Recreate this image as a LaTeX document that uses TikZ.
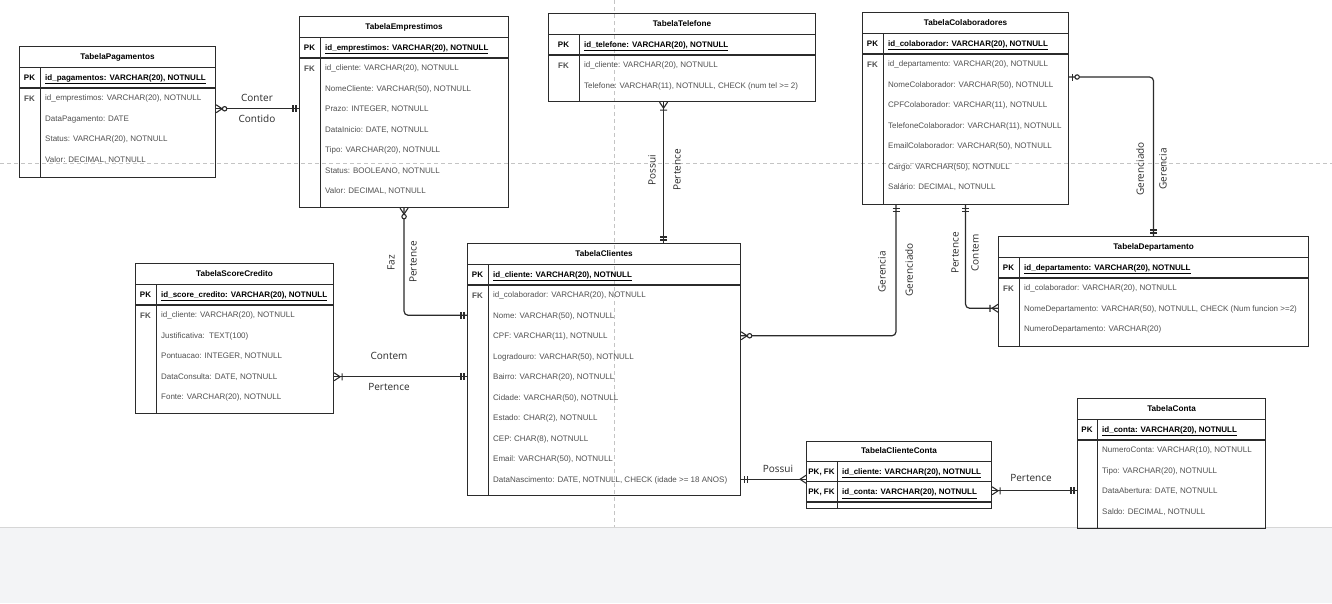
\documentclass[tikz,border=0pt]{standalone}
\usepackage{fontspec}
\setmainfont{Liberation Sans}
\newfontfamily\fonterotulo{Open Sans}
\usetikzlibrary{calc}
\definecolor{linha}{HTML}{2B2B2B}
\definecolor{cinzacampo}{HTML}{505050}
\definecolor{grade}{HTML}{C4C4C4}
\definecolor{rodape}{HTML}{F3F4F6}

\tikzset{
  tabela/.style={draw=linha, line width=1.1pt, anchor=north west, inner sep=0pt},
  fina/.style={draw=linha, line width=0.8pt},
  grossa/.style={draw=linha, line width=1.6pt},
  texto/.style={font=\fontsize{8}{9}\selectfont, inner sep=0pt, text height=5.8pt, text depth=0pt},
  titulo/.style={texto, font=\fontsize{8.2}{9}\selectfont\bfseries},
  chave/.style={texto, font=\fontsize{8}{9}\selectfont\bfseries},
  campo/.style={texto, anchor=west, text=cinzacampo},
  pkcampo/.style={chave, anchor=west},
  rel/.style={draw=linha, line width=1.2pt, rounded corners=4pt},
  simbolo/.style={draw=linha, line width=1.1pt, sharp corners},
  rotulo/.style={font=\fonterotulo\fontsize{10}{12}\selectfont, text=linha, inner sep=0pt},
  pics/umobr/.style={code={\draw[simbolo] (-3,-3.5)--(-3,3.5) (-6,-3.5)--(-6,3.5);}},
  pics/muitos/.style={code={\draw[simbolo] (0,-4)--(-6,0)--(0,4);}},
  pics/umuitos/.style={code={\draw[simbolo] (0,-4)--(-6,0)--(0,4) (-8,-3.5)--(-8,3.5);}},
  pics/zmuitos/.style={code={\draw[simbolo] (0,-4)--(-6,0)--(0,4); \draw[simbolo, fill=white] (-8.5,0) circle (2.2);}},
  pics/zum/.style={code={\draw[simbolo] (-3,-3.5)--(-3,3.5); \draw[simbolo, fill=white] (-8,0) circle (2.2);}},
}

\newcommand{\tabela}[9]{%
  \node[tabela, minimum width=#4pt, minimum height=#5pt] (#1) at (#2,#3) {};
  \node[titulo] (#1-t) at ($(#1.north)+(0,10.5)$) {#7};
  \draw[fina] ($(#1.north west)+(0,21)$) -- ($(#1.north east)+(0,21)$);
  \draw[grossa] ($(#1.north west)+(0,42)$) -- ($(#1.north east)+(0,42)$);
  \draw[fina] ($(#1.north west)+(#6,21)$) -- ($(#1.south west)+(#6,0)$);
  \node[chave] (#1-pk) at ($(#1.north west)+(#6/2,31.5)$) {PK};
  \node[pkcampo] (#1-0) at ($(#1.north west)+(#6+5,31.5)$) {\underline{#8}};
  \foreach \f [count=\i] in {#9}
    \node[campo] (#1-\i) at ($(#1.north west)+(#6+5,31.25+20.5*\i)$) {\f};
}

\begin{document}
\begin{tikzpicture}[x=1pt, y=-1pt]
\useasboundingbox (0,0) rectangle (1332,603);
\fill[white] (0,0) rectangle (1332,603);
\fill[rodape] (0,527) rectangle (1332,603);
\draw[grade!70] (0,527) -- (1332,527);
\draw[grade, dash pattern=on 4pt off 3pt] (0,163) -- (1332,163) (614,0) -- (614,527);

\tabela{pag}{19}{46}{196}{131}{21}{TabelaPagamentos}{id\_pagamentos: VARCHAR(20), NOTNULL}{{id\_emprestimos: VARCHAR(20), NOTNULL}, {DataPagamento: DATE}, {Status: VARCHAR(20), NOTNULL}, {Valor: DECIMAL, NOTNULL}}
\tabela{emp}{299}{16}{209}{191}{21}{TabelaEmprestimos}{id\_emprestimos: VARCHAR(20), NOTNULL}{{id\_cliente: VARCHAR(20), NOTNULL}, {NomeCliente: VARCHAR(50), NOTNULL}, {Prazo: INTEGER, NOTNULL}, {DataInicio: DATE, NOTNULL}, {Tipo: VARCHAR(20), NOTNULL}, {Status: BOOLEANO, NOTNULL}, {Valor: DECIMAL, NOTNULL}}
\tabela{tel}{548}{13}{267}{88}{31}{TabelaTelefone}{id\_telefone: VARCHAR(20), NOTNULL}{{id\_cliente: VARCHAR(20), NOTNULL}, {Telefone: VARCHAR(11), NOTNULL, CHECK (num tel >= 2)}}
\tabela{col}{862}{12}{206}{192}{21}{TabelaColaboradores}{id\_colaborador: VARCHAR(20), NOTNULL}{{id\_departamento: VARCHAR(20), NOTNULL}, {NomeColaborador: VARCHAR(50), NOTNULL}, {CPFColaborador: VARCHAR(11), NOTNULL}, {TelefoneColaborador: VARCHAR(11), NOTNULL}, {EmailColaborador: VARCHAR(50), NOTNULL}, {Cargo: VARCHAR(50), NOTNULL}, {Salário: DECIMAL, NOTNULL}}
\tabela{sc}{135}{263}{198}{150}{21}{TabelaScoreCredito}{id\_score\_credito: VARCHAR(20), NOTNULL}{{id\_cliente: VARCHAR(20), NOTNULL}, {Justificativa:\ \ TEXT(100)}, {Pontuacao: INTEGER, NOTNULL}, {DataConsulta: DATE, NOTNULL}, {Fonte: VARCHAR(20), NOTNULL}}
\tabela{cli}{467}{243}{273}{252}{21}{TabelaClientes}{id\_cliente: VARCHAR(20), NOTNULL}{{id\_colaborador: VARCHAR(20), NOTNULL}, {Nome: VARCHAR(50), NOTNULL}, {CPF: VARCHAR(11), NOTNULL}, {Logradouro: VARCHAR(50), NOTNULL}, {Bairro: VARCHAR(20), NOTNULL}, {Cidade: VARCHAR(50), NOTNULL}, {Estado: CHAR(2), NOTNULL}, {CEP: CHAR(8), NOTNULL}, {Email: VARCHAR(50), NOTNULL}, {DataNascimento: DATE, NOTNULL, CHECK (idade >= 18 ANOS)}}
\tabela{dep}{998}{236}{310}{110}{21}{TabelaDepartamento}{id\_departamento: VARCHAR(20), NOTNULL}{{id\_colaborador: VARCHAR(20), NOTNULL}, {NomeDepartamento: VARCHAR(50), NOTNULL, CHECK (Num funcion >=2)}, {NumeroDepartamento: VARCHAR(20)}}
\tabela{conta}{1077}{398}{188}{130}{20}{TabelaConta}{id\_conta: VARCHAR(20), NOTNULL}{{NumeroConta: VARCHAR(10), NOTNULL}, {Tipo: VARCHAR(20), NOTNULL}, {DataAbertura: DATE, NOTNULL}, {Saldo: DECIMAL, NOTNULL}}
\foreach \t/\c in {pag/21, emp/21, tel/31, col/21, sc/21, cli/21, dep/21}
  \node[chave, text=cinzacampo] (\t-fk) at ($(\t.north west)+(\c/2,52.25)$) {FK};

\node[tabela, minimum width=185pt, minimum height=67pt] (cc) at (806,441) {};
\node[titulo] (cc-t) at ($(cc.north)+(0,10)$) {TabelaClienteConta};
\draw[fina] ($(cc.north west)+(0,20)$) -- ++(185,0);
\draw[fina] ($(cc.north west)+(0,40)$) -- ++(185,0);
\draw[grossa] ($(cc.north west)+(0,61)$) -- ++(185,0);
\draw[fina] ($(cc.north west)+(31,20)$) -- ($(cc.south west)+(31,0)$);
\foreach \f [count=\i] in {id\_cliente, id\_conta} {
  \node[chave] (cc-pk\i) at ($(cc.north west)+(15.5,9.75+20.5*\i)$) {PK, FK};
  \node[pkcampo] (cc-\i) at ($(cc.north west)+(36,9.75+20.5*\i)$) {\underline{\f: VARCHAR(20), NOTNULL}};
}

\coordinate (telcli) at ([xshift=-18.5pt]tel.south);
\coordinate (colcli) at ([xshift=34pt]col.south west);
\coordinate (coldep) at ([yshift=-65pt]col.north east);

\draw[rel] (pag.east |- emp-3) pic[rotate=180]{zmuitos} -- (emp.west |- emp-3) pic{umobr};
\draw[rel] (emp.south) pic[rotate=90]{zmuitos} |- (cli.west |- cli-2) pic{umobr};
\draw[rel] (sc.east |- cli-5) pic[rotate=180]{umuitos} -- (cli.west |- cli-5) pic{umobr};
\draw[rel] (telcli) pic[rotate=90]{umuitos} -- (telcli |- cli.north) pic[rotate=-90]{umobr};
\draw[rel] (cli.east |- cli-10) pic[rotate=180]{umobr} -- (cc.west |- cli-10) pic{muitos};
\draw[rel] (cc.east |- conta-3) pic[rotate=180]{umuitos} -- (conta.west |- conta-3) pic{umobr};
\draw[rel] (cli.east |- cli-3) pic[rotate=180]{zmuitos} -| (colcli) pic[rotate=90]{umobr};
\draw[rel] (col.south) pic[rotate=90]{umobr} |- (dep.west |- dep-2) pic{umuitos};
\draw[rel] (coldep) pic[rotate=180]{zum} -| (dep.north) pic[rotate=-90]{umobr};

\node[rotulo] (r1a) at (257,98) {Conter};
\node[rotulo] (r1b) at (257,119) {Contido};
\node[rotulo, rotate=90] (r2a) at (391,263) {Faz};
\node[rotulo, rotate=90] (r2b) at (413,262) {Pertence};
\node[rotulo] (r3a) at (389,356) {Contem};
\node[rotulo] (r3b) at (389,387) {Pertence};
\node[rotulo, rotate=90] (r4a) at (652,170) {Possui};
\node[rotulo, rotate=90] (r4b) at (677,170) {Pertence};
\node[rotulo] (r5) at (778,469) {Possui};
\node[rotulo] (r6) at (1031,478) {Pertence};
\node[rotulo, rotate=90] (r7a) at (882,272) {Gerencia};
\node[rotulo, rotate=90] (r7b) at (909,270) {Gerenciado};
\node[rotulo, rotate=90] (r8a) at (955,253) {Pertence};
\node[rotulo, rotate=90] (r8b) at (975,253) {Contem};
\node[rotulo, rotate=90] (r9a) at (1140,169) {Gerenciado};
\node[rotulo, rotate=90] (r9b) at (1163,169) {Gerencia};
\end{tikzpicture}
\end{document}
